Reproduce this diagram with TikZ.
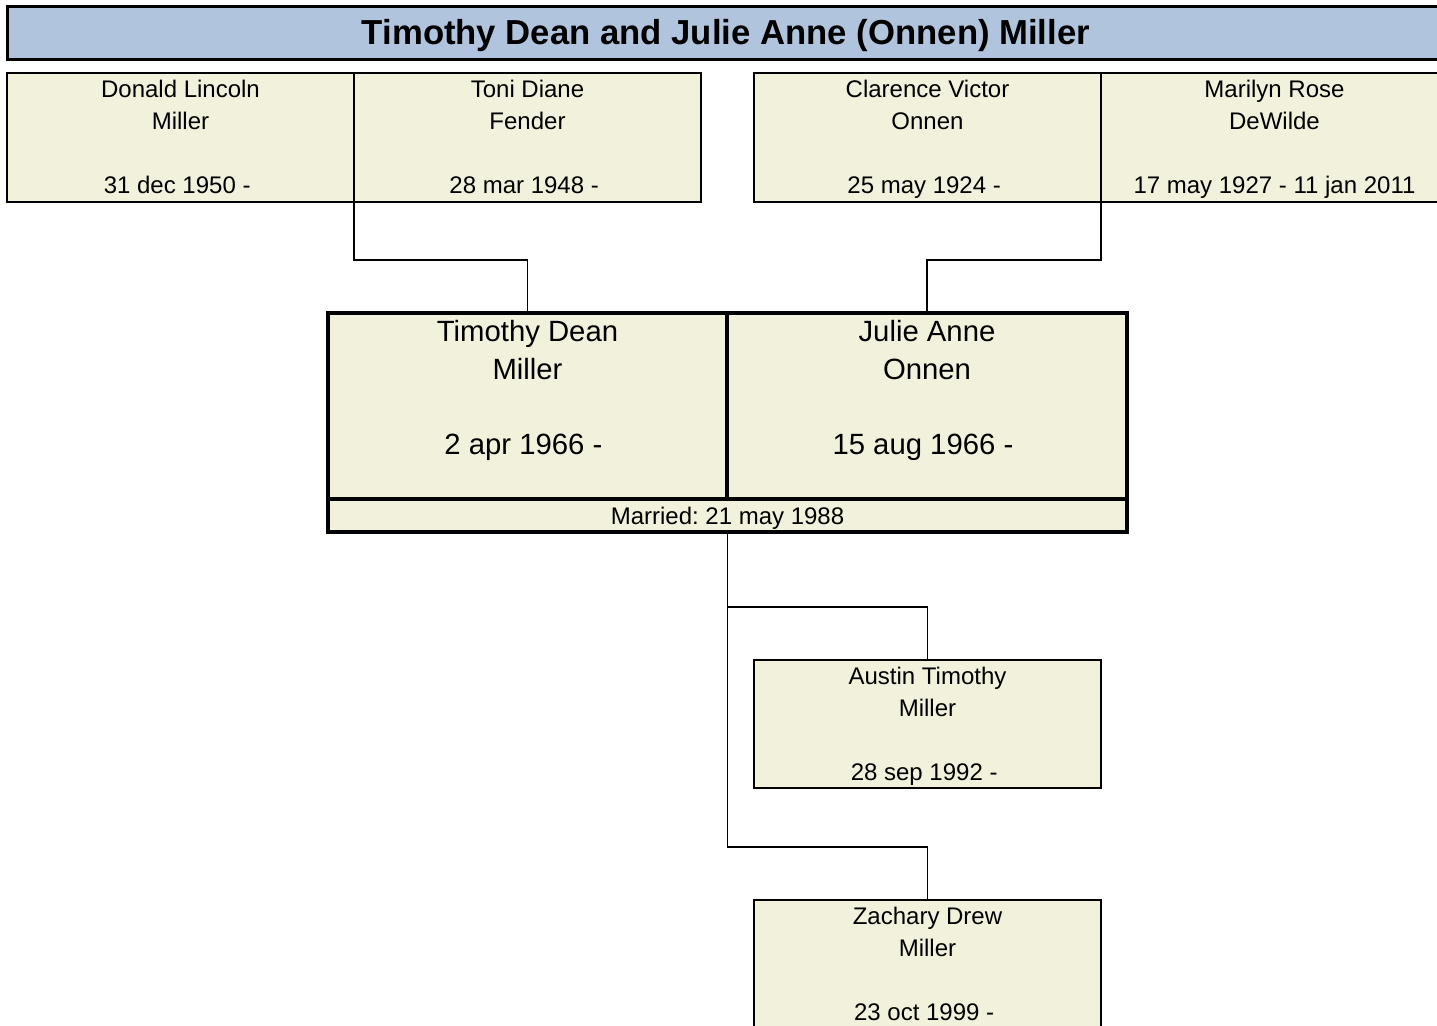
\documentclass[tikz,border=0pt]{standalone}
\usepackage{fontspec}
\setmainfont{Liberation Sans}
\frenchspacing
\definecolor{boxfill}{RGB}{242,242,220}
\definecolor{titlefill}{RGB}{176,196,222}
\newcommand{\famtext}[6]{\parbox[t][#2][t]{#1}{\centering\frenchspacing\fontsize{#3}{#4}\selectfont\rule{0pt}{#5}#6}}
\newcommand{\tsp}{\hspace*{0.278em}}
\begin{document}
\begin{tikzpicture}[x=1pt,y=-1pt,
  box/.style={draw=black,fill=boxfill,line width=1.8pt,inner sep=0pt,outer sep=0pt,anchor=north west},
  thickbox/.style={box,line width=3.2pt},
  titlebox/.style={draw=black,fill=titlefill,line width=3pt,inner sep=0pt,outer sep=0pt,anchor=north west},
  conn/.style={draw=black,line width=1.8pt}]
\useasboundingbox (0,0) rectangle (1437,1025);
\clip (0,0) rectangle (1437,1025);
% title
\node[titlebox] (title) at (7,7) {\famtext{1438pt}{53pt}{34.7}{40}{37.5pt}{\bfseries Timothy Dean and Julie Anne (Onnen) Miller}};
% grandparents
\node[box] (donald) at (7,73) {\famtext{347pt}{129pt}{24}{32}{24pt}{Donald Lincoln\\Miller\\[32pt]31 dec 1950 -\tsp}};
\node[box] (toni) at (354,73) {\famtext{347pt}{129pt}{24}{32}{24pt}{Toni Diane\\Fender\\[32pt]28 mar 1948 -\tsp}};
\node[box] (clarence) at (754,73) {\famtext{347pt}{129pt}{24}{32}{24pt}{Clarence Victor\\Onnen\\[32pt]25 may 1924 -\tsp}};
\node[box] (marilyn) at (1101,73) {\famtext{347pt}{129pt}{24}{32}{24pt}{Marilyn Rose\\DeWilde\\[32pt]17 may 1927 - 11 jan 2011}};
% couple
\node[thickbox] (timothy) at (328,313) {\famtext{399pt}{186pt}{29.3}{37.5}{28.5pt}{Timothy Dean\\Miller\\[37.5pt]2 apr 1966 -\tsp}};
\node[thickbox] (julie) at (727,313) {\famtext{400pt}{186pt}{29.3}{37.5}{28.5pt}{Julie Anne\\Onnen\\[37.5pt]15 aug 1966 -\tsp}};
\node[thickbox] (married) at (328,499) {\famtext{799pt}{33pt}{24}{30}{25.5pt}{Married: 21 may 1988}};
% children
\node[box] (austin) at (754,660) {\famtext{347pt}{128pt}{24}{32}{24pt}{Austin Timothy\\Miller\\[32pt]28 sep 1992 -\tsp}};
\node[box] (zachary) at (754,900) {\famtext{347pt}{129pt}{24}{32}{24pt}{Zachary Drew\\Miller\\[32pt]23 oct 1999 -\tsp}};
% connectors
\draw[conn] (donald.south east) -- ++(0,58) -| (timothy.north);
\draw[conn] (marilyn.south west) -- ++(0,58) -| (julie.north);
\draw[conn] (married.south) -- ++(0,75) -| (austin.north);
\draw[conn] (married.south) -- ++(0,315) -| (zachary.north);
\end{tikzpicture}
\end{document}
